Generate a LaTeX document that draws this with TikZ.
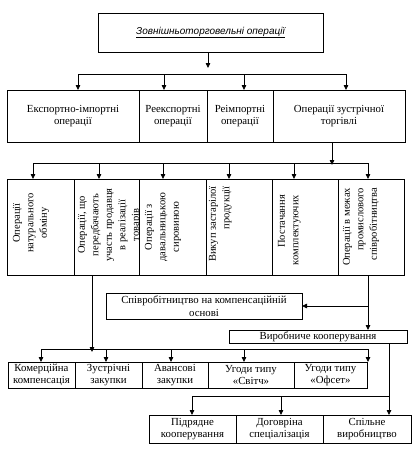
\documentclass[tikz,border=0pt]{standalone}
\usepackage{fontspec}
\setmainfont{Liberation Serif}
\newfontfamily\titlesans{Liberation Sans}
\usetikzlibrary{arrows.meta}
\begin{document}
\begin{tikzpicture}[x=1pt,y=-1pt,
  every node/.style={inner sep=0pt, outer sep=0pt},
  box/.style={draw, line width=0.8pt, align=center, font=\fontsize{10.8}{12.8}\selectfont},
  vtext/.style={rotate=90, anchor=north, font=\fontsize{10.5}{13.5}\selectfont},
  arr/.style={line width=0.8pt, -{Triangle[length=5pt,width=4.5pt]}},
  ln/.style={line width=0.8pt}]
\useasboundingbox (0,0) rectangle (418,453);

% title
\node[box, minimum width=225pt, minimum height=39pt, anchor=north west] (top) at (98,13)
  {\titlesans\itshape\fontsize{10}{11}\selectfont\underline{Зовнішньоторговельні операції}};

% row 2
\node[box, minimum width=132pt, minimum height=52pt, anchor=north west] (ei) at (7,90) {Експортно-імпортні\\операції};
\node[box, minimum width=68pt, minimum height=52pt, anchor=north west] (re) at (139,90) {Реекспортні\\операції};
\node[box, minimum width=66pt, minimum height=52pt, anchor=north west] (ri) at (207,90) {Реімпортні\\операції};
\node[box, minimum width=132pt, minimum height=52pt, anchor=north west] (zt) at (273,90) {Операції зустрічної\\торгівлі};

% row 3 boxes
\foreach \n/\l/\w in {r3a/7/67, r3b/74/65, r3c/139/67, r3d/206/66, r3e/272/66, r3f/338/66}
  \node[box, minimum width=\w pt, minimum height=96pt, anchor=north west] (\n) at (\l,179) {};

% row 3 texts
\node[vtext, align=center] (t3a) at ([xshift=6pt,yshift=4pt]r3a.west) {Операції\\натурального\\обміну};
\begin{scope}
  \clip (r3b.north west) rectangle (r3b.south east);
  \node[vtext, align=center] (t3b) at ([xshift=4pt,yshift=2pt]r3b.west) {Операції, що\\передбачають\\участь продавця\\в реалізації\\товарів};
\end{scope}
\node[vtext, align=center] (t3c) at ([xshift=6pt]r3c.west) {Операції з\\давальницькою\\сировиною};
\node[vtext, align=right] (t3d) at ([xshift=3pt,yshift=3pt]r3d.west) {Викуп застарілої\\продукції};
\node[vtext, align=right] (t3e) at ([xshift=6pt,yshift=-3pt]r3e.west) {Постачання\\комплектуючих};
\node[vtext, align=right] (t3f) at ([xshift=5pt]r3f.west) {Операції в межах\\промислового\\співробітництва};

% middle boxes
\node[box, minimum width=196pt, minimum height=26pt, anchor=north west] (sk) at (106,293) {Співробітництво на компенсаційній\\основі};
\node[box, minimum width=178pt, minimum height=13pt, anchor=north west] (vk) at (229,330) {Виробниче кооперування};

% row 4
\begin{scope}[box/.append style={font=\fontsize{10.8}{12}\selectfont}]
\node[box, minimum width=67pt, minimum height=26pt, anchor=north west] (kk) at (8,362) {Комерційна\\компенсація};
\node[box, minimum width=67pt, minimum height=26pt, anchor=north west] (zz) at (75,362) {Зустрічні\\закупки};
\node[box, minimum width=66pt, minimum height=26pt, anchor=north west] (az) at (142,362) {Авансові\\закупки};
\node[box, minimum width=86pt, minimum height=26pt, anchor=north west] (sv) at (208,362) {Угоди типу\\«Світч»};
\node[box, minimum width=73pt, minimum height=26pt, anchor=north west] (of) at (294,362) {Угоди типу\\«Офсет»};

% row 5
\node[box, minimum width=87pt, minimum height=28pt, anchor=north west] (pk) at (149,415) {Підрядне\\кооперування};
\node[box, minimum width=87pt, minimum height=28pt, anchor=north west] (ds) at (236,415) {Договріна\\спеціалізація};
\node[box, minimum width=88pt, minimum height=28pt, anchor=north west] (sp) at (323,415) {Спільне\\виробництво};
\end{scope}

% connectors: title -> row 2
\draw[arr] (top.south -| 208,0) -- (208,68);
\coordinate (b1l) at (78,74);
\coordinate (b1r) at (346,74);
\draw[ln] (b1l) -- (b1r);
\foreach \x/\n in {78/ei,164/re,244/ri,346/zt}
  \draw[arr] (\x,74) -- (\n.north -| \x,0);

% row 2 -> row 3
\draw[arr] (zt.south -| 332,0) -- (332,165);
\coordinate (b2l) at (33,163);
\coordinate (b2r) at (368,163);
\draw[ln] (b2l) -- (b2r);
\foreach \x/\n in {33/r3a,99/r3b,163/r3c,229/r3d,294/r3e,368/r3f}
  \draw[arr] (\x,163) -- (\n.north -| \x,0);

% row 3 -> row 4
\draw[arr] (r3b.south -| 92,0) -- (92,352);
\coordinate (b4l) at (41,349);
\coordinate (b4r) at (368,349);
\draw[ln] (b4l) -- (b4r);
\foreach \x/\n in {41/kk,106/zz,171/az,244/sv,368/of}
  \draw[arr] (\x,349) -- (\n.north -| \x,0);

% r3f -> cooperation boxes
\draw[arr] (r3f.south -| 368,0) -- (vk.north -| 368,0);
\draw[arr] (sk.east -| 368,0) -- (sk.east);

% vk -> row 5
\draw[arr] (vk.south -| 389,0) -- (sp.north -| 389,0);
\coordinate (b5l) at (192,396);
\coordinate (b5r) at (389,396);
\draw[ln] (b5l) -- (b5r);
\draw[arr] (192,396) -- (pk.north -| 192,0);
\draw[arr] (281,396) -- (ds.north -| 281,0);
\end{tikzpicture}
\end{document}
